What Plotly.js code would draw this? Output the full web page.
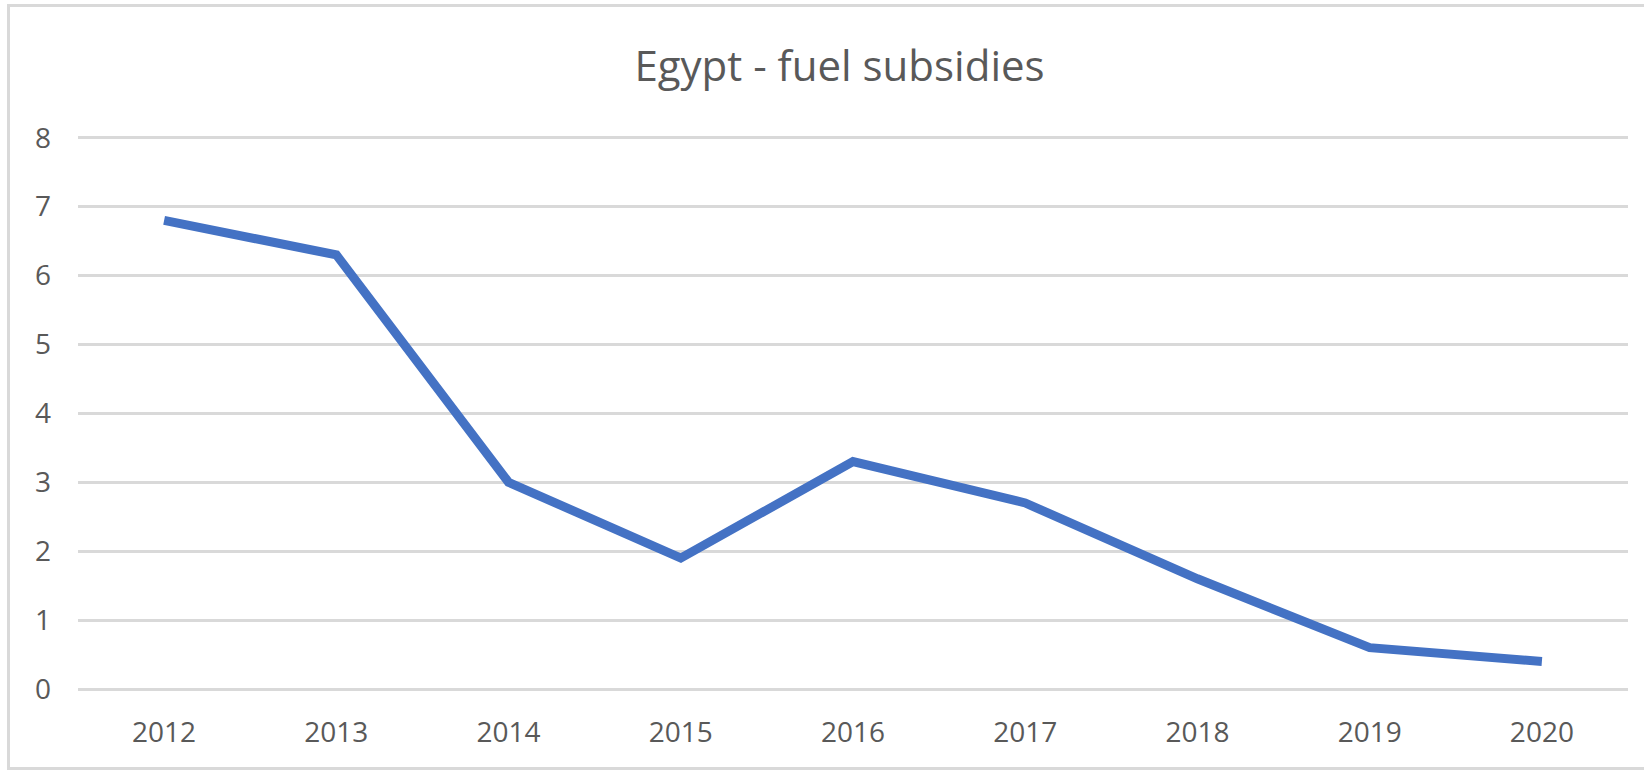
<!DOCTYPE html>
<html>
<head>
<meta charset="utf-8">
<script src="https://cdn.plot.ly/plotly-3.0.1.min.js"></script>
<style>
  html, body { margin: 0; padding: 0; background: #ffffff; }
  #chart { width: 1644px; height: 770px; }
</style>
</head>
<body>
<div id="chart"></div>
<script>
// Data
const years = ["2012", "2013", "2014", "2015", "2016", "2017", "2018", "2019", "2020"];
const fuelSubsidies = [6.8, 6.3, 3.0, 1.9, 3.3, 2.7, 1.6, 0.6, 0.4];
const yTicks = [0, 1, 2, 3, 4, 5, 6, 7, 8];
const chartTitle = "Egypt - fuel subsidies";

const textColor = "#595959";
const gridColor = "#d9d9d9";
const fontFamily = "'Open Sans', 'Noto Sans', sans-serif";

const trace = {
  type: "scatter",
  mode: "lines",
  x: years,
  y: fuelSubsidies,
  line: { color: "#4472C4", width: 9 },
  hoverinfo: "x+y",
  showlegend: false
};

// frame around the chart (paper coordinates relative to plot area)
const L = 78, R = 16, T = 135, B = 81;
const W = 1644, H = 770;
const pw = W - L - R, ph = H - T - B;
const px = v => (v - L) / pw;
const py = v => (H - B - v) / ph;

const layout = {
  width: W,
  height: H,
  margin: { l: L, r: R, t: T, b: B, pad: 0 },
  paper_bgcolor: "#ffffff",
  plot_bgcolor: "#ffffff",
  font: { family: fontFamily, color: textColor },
  title: {
    text: chartTitle,
    font: { family: fontFamily, size: 42, color: textColor },
    xref: "container",
    yref: "container",
    x: 839.5 / W,
    xanchor: "center",
    y: 1 - 66 / H,
    yanchor: "middle"
  },
  xaxis: {
    type: "category",
    range: [-0.5, years.length - 0.5],
    showgrid: false,
    zeroline: false,
    showline: false,
    ticks: "",
    tickfont: { family: fontFamily, size: 28, color: textColor },
    ticklabelstandoff: 24,
    fixedrange: true
  },
  yaxis: {
    range: [0, 8.04],
    tickvals: yTicks,
    ticktext: yTicks.map(String),
    showgrid: true,
    gridcolor: gridColor,
    gridwidth: 2.5,
    zeroline: true,
    zerolinecolor: gridColor,
    zerolinewidth: 2.5,
    showline: false,
    ticks: "",
    tickfont: { family: fontFamily, size: 28, color: textColor },
    ticklabelstandoff: 26,
    fixedrange: true
  },
  shapes: [
    {
      type: "rect",
      xref: "paper",
      yref: "paper",
      x0: px(8.5),
      x1: px(1650),
      y0: py(768.5),
      y1: py(5.5),
      line: { color: gridColor, width: 3 },
      fillcolor: "rgba(0,0,0,0)",
      layer: "below"
    }
  ]
};

Plotly.newPlot("chart", [trace], layout, { displayModeBar: false, responsive: false });
</script>
</body>
</html>
